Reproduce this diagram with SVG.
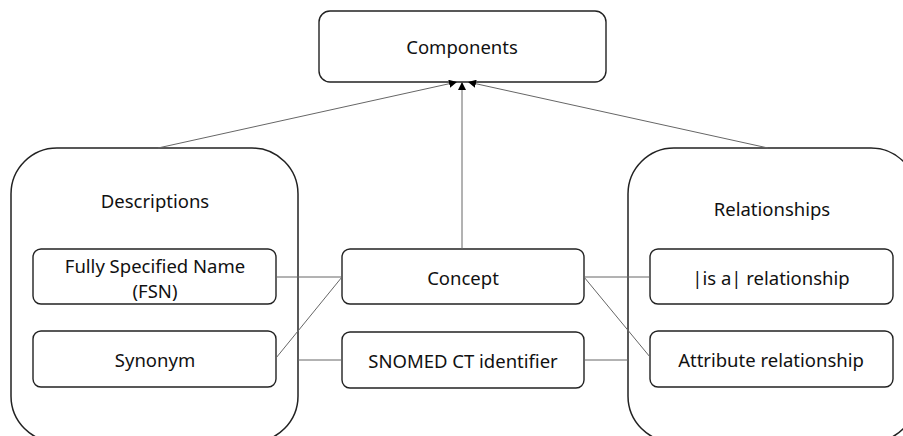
<svg xmlns="http://www.w3.org/2000/svg" width="903" height="436" viewBox="0 0 903 436">
<defs>
<marker id="arr" viewBox="0 0 10 10" refX="10" refY="5" markerWidth="8" markerHeight="8" markerUnits="userSpaceOnUse" orient="auto">
<path d="M0,0 L10,5 L0,10 Z" fill="#000"/>
</marker>
</defs>
<style>
.box{fill:#fff;stroke:#222;stroke-width:1.4}
.cont{fill:#fff;stroke:#222;stroke-width:1.5}
.t{font-family:"Noto Sans","Open Sans",sans-serif;font-size:18.5px;fill:#111;text-anchor:middle;dominant-baseline:central}
.c{stroke:#666;stroke-width:1;fill:none}
</style>
<g id="descriptions">
<rect class="cont" x="11" y="148" width="287" height="294" rx="46"/>
<text class="t" x="155" y="200">Descriptions</text>
</g>
<g id="relationships">
<rect class="cont" x="628" y="148" width="289" height="294" rx="46"/>
<text class="t" x="772" y="208">Relationships</text>
</g>
<g id="components">
<rect class="box" x="319" y="11" width="287" height="71" rx="11"/>
<text class="t" x="462" y="46">Components</text>
</g>
<g id="fsn">
<rect class="box" x="33" y="249" width="243" height="55" rx="8"/>
<text class="t" x="155" y="265">Fully Specified Name</text>
<text class="t" x="155" y="290">(FSN)</text>
</g>
<g id="synonym">
<rect class="box" x="33" y="331" width="243" height="56" rx="8"/>
<text class="t" x="155" y="359">Synonym</text>
</g>
<g id="concept">
<rect class="box" x="342" y="249" width="242" height="55" rx="8"/>
<text class="t" x="463" y="277">Concept</text>
</g>
<g id="snomed">
<rect class="box" x="342" y="332" width="242" height="56" rx="8"/>
<text class="t" x="463" y="360">SNOMED CT identifier</text>
</g>
<g id="isa">
<rect class="box" x="650" y="249" width="243" height="55" rx="8"/>
<text class="t" x="771" y="277">|is a| relationship</text>
</g>
<g id="attribute">
<rect class="box" x="650" y="331" width="243" height="56" rx="8"/>
<text class="t" x="771" y="359">Attribute relationship</text>
</g>
<g id="connectors">
<line class="c" x1="276" y1="277" x2="342" y2="277"/>
<line class="c" x1="276" y1="358" x2="342" y2="277"/>
<line class="c" x1="298" y1="360" x2="342" y2="360"/>
<line class="c" x1="584" y1="277" x2="650" y2="277"/>
<line class="c" x1="584" y1="277" x2="650" y2="357"/>
<line class="c" x1="584" y1="360" x2="628" y2="360"/>
<line class="c" x1="462" y1="249" x2="462" y2="82" marker-end="url(#arr)"/>
<line class="c" x1="158" y1="148" x2="457" y2="82" marker-end="url(#arr)"/>
<line class="c" x1="768" y1="148" x2="468" y2="82" marker-end="url(#arr)"/>
</g>
</svg>
